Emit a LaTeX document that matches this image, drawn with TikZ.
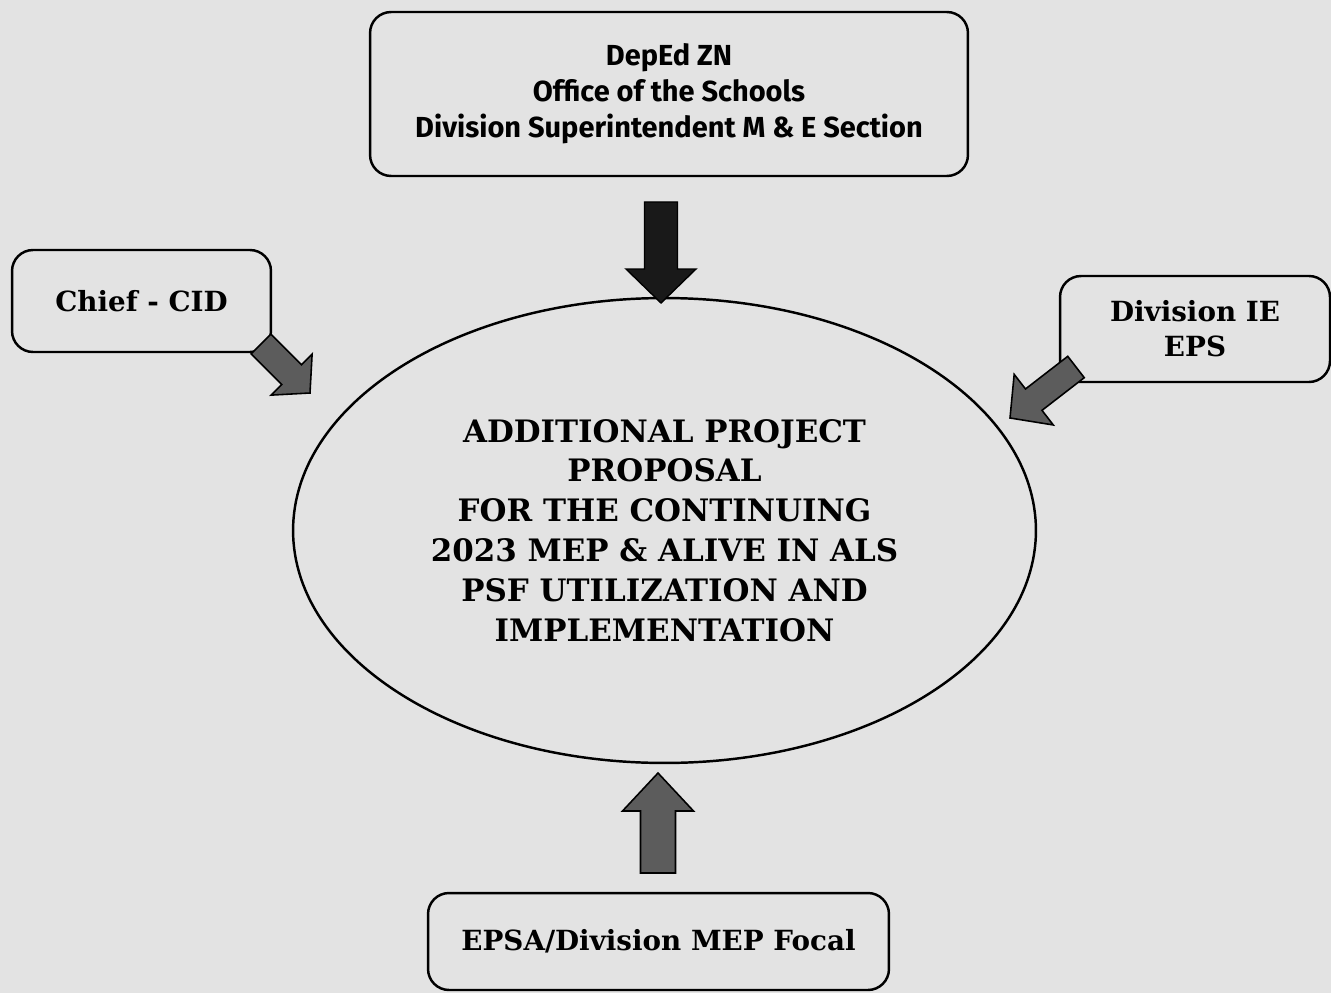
\documentclass[tikz,border=0pt]{standalone}
\usepackage{fontspec}
\usetikzlibrary{calc,shapes.geometric}
\newfontfamily\serifb{DejaVu Serif}
\newfontfamily\sansb{Fira Sans}
\definecolor{bgcol}{gray}{0.89}
\definecolor{arrgray}{gray}{0.36}
\newcommand{\bkarrow}[6]{%
  \coordinate (hb) at ($(#3)!#6!(#2)$);
  \filldraw[#1] ($(#2)!#4!90:(#3)$) -- ($(hb)!#4!90:(#3)$) -- ($(hb)!#5!90:(#3)$) -- (#3)
    -- ($(hb)!#5!-90:(#3)$) -- ($(hb)!#4!-90:(#3)$) -- ($(#2)!#4!-90:(#3)$) -- cycle;}
\tikzset{
  box/.style={draw=black, line width=1.4pt, rounded corners=0.42cm, align=center, inner sep=0pt},
  serifbox/.style={box, font=\serifb\bfseries\fontsize{15.8}{20}\selectfont},
  sansbox/.style={box, font=\sansb\bfseries\fontsize{16.5}{20.4}\selectfont},
  oval/.style={draw=black, line width=1.4pt, ellipse, inner sep=0pt, align=center,
    font=\serifb\bfseries\fontsize{17.6}{22.7}\selectfont},
  darrow/.style={draw=black, line width=0.8pt, fill=black!90, line join=miter},
  garrow/.style={draw=black, line width=0.9pt, fill=arrgray, line join=miter},
}
\begin{document}
\begin{tikzpicture}[x=0.02cm, y=-0.02cm]
\useasboundingbox (0,0) rectangle (1331,993);
\fill[bgcol] (0,0) rectangle (1331,993);

\node[sansbox, minimum width=11.96cm, minimum height=3.28cm] (top) at (669,94)
  {DepEd ZN\\Office of the Schools\\Division Superintendent M \& E Section};
\node[serifbox, minimum width=5.18cm, minimum height=2.04cm] (chief) at (141.5,301) {Chief - CID};
\node[serifbox, minimum width=5.4cm, minimum height=2.12cm] (divie) at (1195,329) {Division IE\\EPS};
\node[serifbox, minimum width=9.22cm, minimum height=1.94cm] (epsa) at (658.5,941.5) {EPSA/Division MEP Focal};
\node[oval, minimum width=14.86cm, minimum height=9.3cm] (center) at (664.5,530.5)
  {ADDITIONAL PROJECT\\PROPOSAL\\FOR THE CONTINUING\\2023 MEP \& ALIVE IN ALS\\PSF UTILIZATION AND\\IMPLEMENTATION};

\coordinate (t1) at (661,202);  \coordinate (t2) at (661,303);
\coordinate (l1) at (261,344);  \coordinate (l2) at (310,393);
\coordinate (r1) at (1076,367); \coordinate (r2) at (1010,418);
\coordinate (b1) at (658,873);  \coordinate (b2) at (658,773);

\bkarrow{darrow}{t1}{t2}{0.33cm}{0.70cm}{0.68cm}
\bkarrow{garrow}{l1}{l2}{0.28cm}{0.58cm}{0.52cm}
\bkarrow{garrow}{r1}{r2}{0.27cm}{0.64cm}{0.60cm}
\bkarrow{garrow}{b1}{b2}{0.35cm}{0.71cm}{0.76cm}
\end{tikzpicture}
\end{document}
